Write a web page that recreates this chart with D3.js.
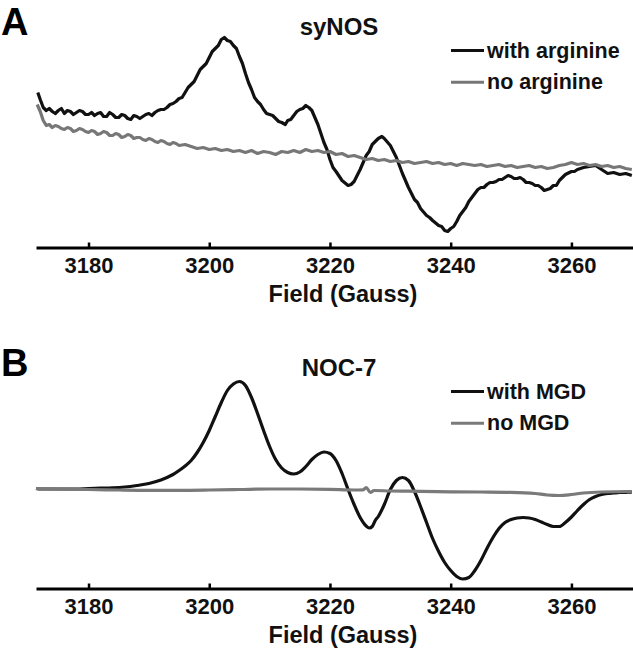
<!DOCTYPE html>
<html>
<head>
<meta charset="utf-8">
<script src="https://cdn.jsdelivr.net/npm/d3@7"></script>
<style>
  body { margin: 0; background: #fff; }
  svg { display: block; font-family: "Liberation Sans", Arial, Helvetica, sans-serif; font-weight: bold; }
</style>
</head>
<body>
<svg id="chart" width="633" height="652"></svg>
<script>
// Field axis (Gauss)
const fieldDomain = [3171.3, 3270.2];
const fieldTicks = [3180, 3200, 3220, 3240, 3260];

// Panel A, syNOS: [field (G), signal (a.u.)]
const synosWithArginine = [
  [3171.6, 155], [3172, 148], [3172.5, 140], [3173, 137], [3173.5, 139], [3174, 136], [3174.5, 134],
  [3175, 137], [3175.5, 139], [3176, 134], [3176.5, 137], [3177, 136], [3177.5, 133], [3178, 135],
  [3178.5, 137], [3179, 136], [3179.5, 133], [3180, 133], [3180.5, 135], [3181, 132], [3181.5, 134],
  [3182, 135], [3182.5, 131], [3183, 131], [3183.5, 135], [3184, 133], [3184.5, 130], [3185, 130],
  [3185.5, 133], [3186, 132], [3186.5, 129], [3187, 128], [3187.5, 132], [3188, 131], [3188.5, 129],
  [3189, 131], [3189.5, 133], [3190, 134], [3190.5, 132], [3191, 135], [3191.5, 137], [3192, 138],
  [3192.5, 138], [3193, 140], [3193.5, 143], [3194, 144], [3194.5, 146], [3195, 149], [3195.5, 150],
  [3196, 155], [3196.5, 160], [3197, 163], [3197.5, 166], [3198, 172], [3198.5, 178], [3199, 181],
  [3199.5, 184], [3200, 190], [3200.5, 196], [3201, 199], [3201.5, 202], [3202, 208], [3202.5, 210],
  [3203, 207], [3203.5, 206], [3204, 202], [3204.5, 199], [3205, 191], [3205.5, 184], [3206, 174],
  [3206.5, 165], [3207, 158], [3207.5, 150], [3208, 146], [3208.5, 143], [3209, 138], [3209.5, 134],
  [3210, 133], [3210.5, 132], [3211, 129], [3211.5, 126], [3212, 125], [3212.6, 123], [3213, 127],
  [3213.5, 128], [3214, 132], [3214.5, 136], [3215, 138], [3215.5, 139], [3216, 142], [3216.5, 140],
  [3217, 137], [3218, 123], [3219, 105], [3219.5, 98], [3220, 88], [3220.5, 80], [3221, 76],
  [3222, 67], [3223, 62], [3223.5, 63], [3224, 66], [3225, 78], [3226, 92], [3226.5, 96],
  [3227, 103], [3228, 109], [3228.6, 111], [3229, 109], [3230, 102], [3231, 90], [3232, 74],
  [3233, 60], [3234, 48], [3234.5, 45], [3235, 39], [3236, 32], [3236.5, 30], [3237, 27],
  [3238, 22], [3238.5, 21], [3239, 17], [3239.5, 16], [3240, 19], [3240.5, 21], [3241, 26],
  [3241.5, 32], [3242, 36], [3242.5, 40], [3243, 46], [3243.5, 50], [3244, 54], [3244.5, 58],
  [3245, 60], [3245.5, 60], [3246, 63], [3246.5, 65], [3247, 65], [3247.5, 66], [3248, 68],
  [3248.5, 68], [3249, 70], [3249.5, 72], [3250, 71], [3250.5, 69], [3251, 69], [3251.5, 70],
  [3252, 68], [3252.5, 65], [3253, 65], [3253.5, 64], [3254, 62], [3254.5, 62], [3255, 60],
  [3255.5, 57], [3256, 58], [3256.5, 59], [3257, 62], [3257.5, 62], [3258, 67], [3259, 73],
  [3260, 76], [3260.5, 76], [3261, 78], [3262, 80], [3263, 81], [3264, 82], [3264.5, 80],
  [3265, 78], [3266, 74], [3267, 75], [3268, 73], [3269, 74], [3270, 72]
];
const synosNoArginine = [
  [3171.5, 143], [3172, 136], [3172.5, 127], [3173, 122], [3173.5, 123], [3174, 120], [3174.5, 122],
  [3175, 121], [3175.5, 119], [3176, 118], [3176.5, 120], [3177, 119], [3177.5, 116], [3178, 117],
  [3178.5, 119], [3179, 118], [3179.5, 116], [3180, 115], [3180.5, 117], [3181, 116], [3181.5, 113],
  [3182, 114], [3182.5, 116], [3183, 115], [3183.5, 112], [3184, 112], [3184.5, 114], [3185, 113],
  [3185.5, 110], [3186, 111], [3186.5, 113], [3187, 112], [3187.5, 109], [3188, 110], [3188.5, 110],
  [3189, 108], [3189.5, 107], [3190, 109], [3190.5, 108], [3191, 106], [3191.5, 105], [3192, 107],
  [3192.5, 106], [3193, 104], [3193.5, 103], [3194, 105], [3194.5, 104], [3195, 102], [3196, 103],
  [3197, 101], [3198, 99], [3199, 100], [3200, 98], [3201, 99], [3202, 97], [3203, 98],
  [3204, 96], [3205, 97], [3206, 95], [3207, 97], [3208, 94], [3209, 96], [3210, 95],
  [3211, 93], [3212, 96], [3213, 95], [3214, 97], [3215, 95], [3216, 98], [3217, 96],
  [3218, 97], [3219, 95], [3220, 96], [3221, 93], [3222, 94], [3223, 91], [3224, 92],
  [3225, 90], [3226, 88], [3227, 89], [3228, 87], [3229, 88], [3230, 86], [3231, 87],
  [3232, 85], [3233, 86], [3234, 84], [3235, 85], [3236, 86], [3237, 84], [3238, 85],
  [3239, 83], [3240, 84], [3241, 82], [3242, 84], [3243, 83], [3244, 82], [3245, 83],
  [3246, 81], [3247, 82], [3248, 83], [3249, 81], [3250, 82], [3251, 80], [3252, 81],
  [3253, 82], [3254, 80], [3255, 81], [3256, 79], [3257, 80], [3258, 82], [3259, 83],
  [3260, 85], [3261, 83], [3262, 84], [3263, 82], [3264, 83], [3265, 81], [3266, 82],
  [3267, 80], [3268, 81], [3269, 79], [3270, 78]
];

// Panel B, NOC-7
const noc7WithMGD = [
  [3171.3, 100], [3172, 99.5], [3174, 99.5], [3176, 99.5], [3178, 99.5], [3180, 100],
  [3182, 100.3], [3184, 100.7], [3186, 101.5], [3188, 103], [3190, 105], [3192, 108.5],
  [3193, 111], [3194, 114], [3195, 118], [3196, 122.5], [3197, 128], [3198, 136], [3199, 146],
  [3200, 158], [3201, 172], [3202, 186], [3203, 198], [3204, 204.5], [3205, 207], [3206, 203],
  [3207, 191], [3208, 175], [3209, 158], [3210, 142], [3211, 129], [3212, 120.5], [3213, 116],
  [3214, 114.5], [3215, 116.5], [3216, 122], [3217, 129], [3218, 134], [3219, 136.5], [3220, 135],
  [3221, 128], [3222, 115], [3223, 99], [3224, 84], [3225, 71], [3226, 62.5], [3226.5, 60.5],
  [3227, 62], [3227.5, 68], [3228, 72], [3229, 84], [3230, 99], [3231, 108], [3232, 111],
  [3233, 108], [3234, 97], [3235, 82], [3236, 66], [3237, 50], [3238, 37], [3239, 26],
  [3240, 18], [3241, 12], [3242, 9.5], [3243, 11], [3244, 18], [3245, 28], [3246, 40],
  [3247, 51], [3248, 60], [3249, 66], [3250, 69], [3251, 70.5], [3252, 71], [3253, 70.5],
  [3254, 69], [3255, 66.5], [3256, 64], [3257, 62], [3258, 62], [3259, 66], [3260, 71.5],
  [3261, 78], [3262, 84], [3263, 89], [3264, 92], [3265, 94], [3266, 95], [3267, 95.5],
  [3268, 96], [3269, 96.2], [3270, 96.3]
];
const noc7NoMGD = [
  [3171.3, 100], [3175, 99.5], [3180, 99], [3185, 98.5], [3190, 98.2], [3195, 98.2],
  [3200, 98.5], [3205, 99], [3210, 99.5], [3215, 99.5], [3220, 99.2], [3224, 98.5],
  [3225.5, 98.7], [3226, 101], [3226.7, 96], [3227.3, 98], [3230, 97.5], [3235, 97.2],
  [3240, 96.7], [3245, 96.5], [3250, 96.2], [3254, 95], [3256, 93.5], [3258, 93],
  [3260, 94], [3262, 95.5], [3265, 96.5], [3270, 97]
];

const panels = [
  {
    letter: 'A', title: 'syNOS', offsetY: 0, curve: d3.curveLinear,
    series: [
      { name: 'with arginine', color: '#111', values: synosWithArginine },
      { name: 'no arginine', color: '#777', values: synosNoArginine }
    ]
  },
  {
    letter: 'B', title: 'NOC-7', offsetY: 341, curve: d3.curveMonotoneX,
    series: [
      { name: 'with MGD', color: '#111', values: noc7WithMGD },
      { name: 'no MGD', color: '#7a7a7a', values: noc7NoMGD }
    ]
  }
];

const svg = d3.select('#chart');

const drawPanel = (p) => {
  const axisY = 247.5;
  const g = svg.append('g').attr('transform', `translate(0,${p.offsetY})`);

  const x = d3.scaleLinear().domain(fieldDomain).range([36, 633]);
  const y = d3.scaleLinear().domain([0, 210]).range([axisY, axisY - 210]);

  const line = d3.line()
    .x(d => x(d[0]))
    .y(d => y(d[1]))
    .curve(p.curve);

  // traces (black first, grey over it)
  p.series.forEach(s => {
    g.append('path')
      .datum(s.values)
      .attr('d', line)
      .attr('fill', 'none')
      .attr('stroke', s.color)
      .attr('stroke-width', 3.2)
      .attr('stroke-linejoin', 'round');
  });

  // field axis with inward ticks
  const axis = g.append('g')
    .attr('transform', `translate(0,${axisY})`)
    .call(d3.axisBottom(x)
      .tickValues(fieldTicks)
      .tickFormat(d3.format('d'))
      .tickSizeInner(-5)
      .tickSizeOuter(0)
      .tickPadding(10));
  axis.select('.domain').attr('stroke', '#000').attr('stroke-width', 3);
  axis.selectAll('.tick line').attr('stroke', '#000').attr('stroke-width', 2.5);
  axis.selectAll('.tick text')
    .attr('fill', '#111')
    .style('font-size', '22px')
    .style('font-family', '"Liberation Sans", Arial, sans-serif')
    .style('font-weight', 'bold');

  g.append('text')
    .attr('x', 343)
    .attr('y', axisY + 54)
    .attr('text-anchor', 'middle')
    .style('font-size', '23.5px')
    .attr('fill', '#111')
    .text('Field (Gauss)');

  // panel letter and title
  g.append('text')
    .attr('x', 1)
    .attr('y', 35)
    .style('font-size', '38px')
    .attr('fill', '#000')
    .text(p.letter);

  g.append('text')
    .attr('x', 339)
    .attr('y', 35)
    .attr('text-anchor', 'middle')
    .style('font-size', '24px')
    .attr('fill', '#111')
    .text(p.title);

  // legend
  p.series.forEach((s, i) => {
    const ly = 50.5 + i * 31.7;
    g.append('line')
      .attr('x1', 451).attr('x2', 484)
      .attr('y1', ly).attr('y2', ly)
      .attr('stroke', s.color)
      .attr('stroke-width', 3);
    g.append('text')
      .attr('x', 487)
      .attr('y', ly + 7)
      .style('font-size', '21.5px')
      .attr('fill', '#111')
      .text(s.name);
  });
};

panels.forEach(drawPanel);
</script>
</body>
</html>
